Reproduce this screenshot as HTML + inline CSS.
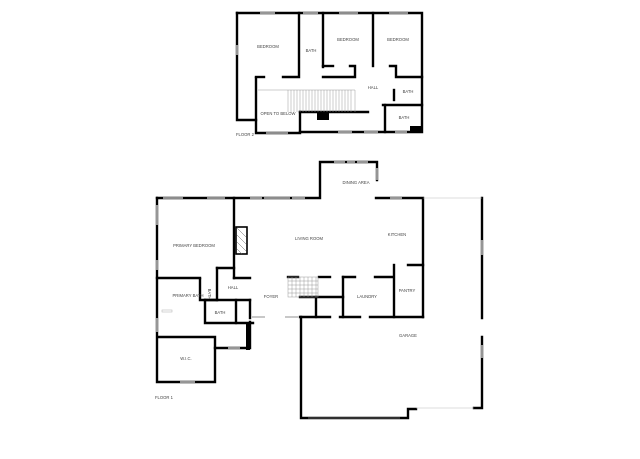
<!DOCTYPE html>
<html><head><meta charset="utf-8"><style>
html,body{margin:0;padding:0;background:#fff;width:640px;height:459px;overflow:hidden}
svg{display:block}
text{font-family:"Liberation Sans",sans-serif;font-size:4.2px;fill:#444;text-anchor:middle}
</style></head><body>
<svg width="640" height="459" viewBox="0 0 640 459">
<g stroke="#000" stroke-width="2.4" fill="none" stroke-linecap="square">
<!-- FLOOR 2 -->
<path d="M237 13 V120 H256"/>
<path d="M256 78 V133 H300 V112"/>
<path d="M300 132 H422 V13 H237"/>
<path d="M299 13 V77 H283"/><path d="M256 77 H264"/>
<path d="M323 13 V67"/><path d="M373 13 V66"/>
<path d="M323 66 H333"/><path d="M350 66 H355 V77 H323"/>
<path d="M390 66 H396 V77 H422"/>
<path d="M394 90 V100"/><path d="M383 105 H422"/><path d="M385 105 V132"/>
<path d="M300 112 H368"/>
</g>
<rect x="317" y="112" width="12" height="8" fill="#000"/>
<rect x="410" y="126" width="12" height="6" fill="#000"/>
<g stroke="#bbb" stroke-width="1.6">
<line x1="260" y1="13" x2="275" y2="13"/><line x1="303" y1="13" x2="318" y2="13"/><line x1="339" y1="13" x2="358" y2="13"/><line x1="389" y1="13" x2="408" y2="13"/>
<line x1="237" y1="45" x2="237" y2="55"/><line x1="338" y1="132" x2="352" y2="132"/><line x1="364" y1="132" x2="378" y2="132"/><line x1="395" y1="132" x2="407" y2="132"/><line x1="266" y1="133" x2="288" y2="133"/>
</g>
<g stroke="#999" stroke-width="0.5">
<line x1="258" y1="90" x2="355" y2="90"/><line x1="288" y1="90" x2="288" y2="112"/><line x1="355" y1="90" x2="355" y2="112"/>
<path d="M291 90v22M294 90v22M297 90v22M300 90v22M303 90v22M306 90v22M309 90v22M312 90v22M315 90v22M318 90v22M321 90v22M324 90v22M327 90v22M330 90v22M333 90v22M336 90v22M339 90v22M342 90v22M345 90v22M348 90v22M351 90v22"/>
</g>
<text x="268" y="48">BEDROOM</text><text x="311" y="52">BATH</text><text x="348" y="41">BEDROOM</text><text x="398" y="41">BEDROOM</text>
<text x="373" y="89">HALL</text><text x="408" y="93">BATH</text><text x="404" y="119">BATH</text>
<text x="278" y="115">OPEN TO BELOW</text>
<text x="236" y="136" style="text-anchor:start">FLOOR 2</text>
<!-- FLOOR 1 -->
<g stroke="#000" stroke-width="2.4" fill="none" stroke-linecap="square">
<path d="M157 198 V382 H215 V337 H157"/><path d="M157 198 H234 V278"/>
<path d="M234 198 H320 V162 H377 V180"/>
<path d="M376 198 H423 V317"/>
<path d="M157 278 H200"/><path d="M217 268 V300"/><path d="M217 268 H234"/><path d="M234 278 H250"/>
<path d="M200 279 V300 H217"/>
<path d="M205 300 V323 H253"/><path d="M236 300 V323"/><path d="M205 300 H250"/>
<path d="M250 300 V318"/><path d="M215 348 H250 V322"/>
<path d="M288 277 H298"/><path d="M319 277 H330"/><path d="M343 277 H355 M375 277 H392"/><path d="M343 277 V317"/>
<path d="M316 297 V317"/><path d="M300 297 H343"/>
<path d="M394 265 V317"/><path d="M408 265 H423"/>
<path d="M300 317 H330 M340 317 H360 M370 317 H423"/>
<path d="M301 317 V418 H408 V409 H416"/>
<path d="M482 198 V318 M482 337 V408 H474"/>
</g>
<rect x="246" y="322" width="4" height="28" fill="#000"/>
<g stroke="#bbb" stroke-width="1.6">
<line x1="163" y1="198" x2="183" y2="198"/><line x1="207" y1="198" x2="225" y2="198"/><line x1="250" y1="198" x2="262" y2="198"/><line x1="264" y1="198" x2="290" y2="198"/><line x1="292" y1="198" x2="305" y2="198"/>
<line x1="334" y1="162" x2="345" y2="162"/><line x1="347" y1="162" x2="355" y2="162"/><line x1="357" y1="162" x2="368" y2="162"/><line x1="377" y1="168" x2="377" y2="180"/>
<line x1="390" y1="198" x2="402" y2="198"/><line x1="157" y1="205" x2="157" y2="225"/><line x1="157" y1="260" x2="157" y2="270"/><line x1="157" y1="318" x2="157" y2="332"/>
<line x1="252" y1="317" x2="265" y2="317"/><line x1="285" y1="317" x2="298" y2="317"/><line x1="228" y1="348" x2="240" y2="348"/><line x1="180" y1="382" x2="195" y2="382"/>
<line x1="482" y1="240" x2="482" y2="255"/><line x1="482" y1="345" x2="482" y2="358"/>
</g>
<g stroke="#bbb" stroke-width="0.6">
<line x1="423" y1="198" x2="482" y2="198"/><line x1="416" y1="408" x2="474" y2="408"/><line x1="308" y1="418" x2="400" y2="418"/>
<rect x="162" y="310" width="10" height="2" fill="none"/>
</g>
<rect x="236" y="227" width="11" height="27" fill="none" stroke="#000" stroke-width="1.6"/>
<path d="M237 228 l9 9 M237 235 l9 9 M237 242 l9 9 M237 249 l5 5" stroke="#666" stroke-width="0.5"/>
<g stroke="#999" stroke-width="0.5" fill="none">
<rect x="288" y="277" width="30" height="20"/>
<path d="M288 281h30M288 285h30M288 289h30M288 293h30M292 277v20M296 277v20M300 277v20M304 277v20M308 277v20M312 277v20M316 277v20"/>
</g>
<text x="356" y="184">DINING AREA</text><text x="309" y="240">LIVING ROOM</text><text x="397" y="236">KITCHEN</text>
<text x="194" y="247">PRIMARY BEDROOM</text><text x="233" y="289">HALL</text><text x="271" y="298">FOYER</text>
<text x="188" y="297">PRIMARY BATH</text><text x="220" y="314">BATH</text><text x="367" y="298">LAUNDRY</text><text x="407" y="292">PANTRY</text>
<text x="408" y="337">GARAGE</text><text x="186" y="360">W.I.C.</text>
<text x="209" y="293" transform="rotate(90 208 293)">BATH</text>
<text x="155" y="399" style="text-anchor:start">FLOOR 1</text>
</svg>
</body></html>
